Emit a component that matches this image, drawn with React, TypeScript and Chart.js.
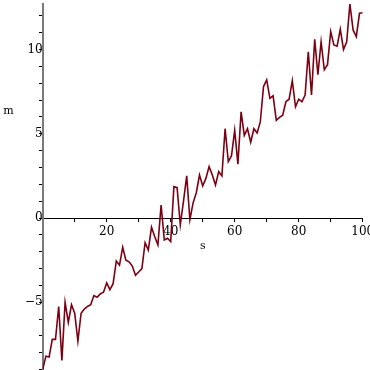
import React, { useEffect, useRef } from 'react';
import { Chart, registerables } from 'chart.js';

Chart.register(...registerables);

const S_VALUES = [
  0, 1, 2, 3, 4, 5, 6, 7, 8, 9, 10, 11, 12, 13, 14, 15, 16, 17, 18, 19,
  20, 21, 22, 23, 24, 25, 26, 27, 28, 29, 30, 31, 32, 33, 34, 35, 36, 37, 38, 39,
  40, 41, 42, 43, 44, 45, 46, 47, 48, 49, 50, 51, 52, 53, 54, 55, 56, 57, 58, 59,
  60, 61, 62, 63, 64, 65, 66, 67, 68, 69, 70, 71, 72, 73, 74, 75, 76, 77, 78, 79,
  80, 81, 82, 83, 84, 85, 86, 87, 88, 89, 90, 91, 92, 93, 94, 95, 96, 97, 98, 99, 100,
];

const M_VALUES = [
  -9.0, -8.2, -8.25, -7.2, -7.2, -5.25, -8.45, -5.0, -6.2, -5.15,
  -5.65, -7.3, -5.65, -5.4, -5.25, -5.15, -4.6, -4.7, -4.5, -4.4,
  -3.85, -4.25, -3.9, -2.55, -2.8, -1.74, -2.5, -2.6, -2.85, -3.4,
  -3.2, -3.0, -1.47, -1.9, -0.55, -1.1, -1.6, 0.77, -1.3, -1.2,
  -1.4, 1.86, 1.8, -0.4, 1.0, 2.5, -0.1, 0.9, 1.5, 2.55,
  1.9, 2.35, 3.05, 2.55, 1.96, 2.75, 2.5, 5.3, 3.35, 3.7,
  5.2, 3.2, 6.3, 4.9, 5.3, 4.5, 5.3, 5.05, 5.7, 7.8,
  8.2, 7.1, 7.25, 5.8, 5.97, 6.1, 6.9, 7.05, 8.15, 6.6,
  7.05, 6.9, 7.3, 9.87, 7.3, 10.6, 8.5, 10.46, 8.8, 9.1,
  11.06, 10.27, 10.2, 11.2, 10.0, 10.46, 12.7, 11.16, 10.76, 12.15,
  12.18,
];

const X_MIN = 0;
const X_MAX = 100;
const Y_MIN = -9.02;
const Y_MAX = 12.7;
const X_TICK_STEP = 10;
const X_LABEL_STEP = 20;
const Y_TICK_STEP = 1;
const Y_LABEL_STEP = 5;
const X_TITLE = 's';
const Y_TITLE = 'm';

const FONT_FAMILY = '"DejaVu Serif", serif';

const fmt = (v: number) => (v < 0 ? '\u2212' + String(Math.abs(v)) : String(v));

const zeroPad = (scale: any) => {
  scale.paddingLeft = 0;
  scale.paddingRight = 0;
  scale.paddingTop = 0;
  scale.paddingBottom = 0;
};

const axisTitles = {
  id: 'axisTitles',
  afterDraw(chart: any) {
    const { ctx, scales } = chart;
    const x = scales.x;
    const y = scales.y;
    ctx.save();
    ctx.fillStyle = '#000';
    ctx.font = '11px ' + FONT_FAMILY;
    ctx.textAlign = 'center';
    ctx.textBaseline = 'middle';
    ctx.fillText(X_TITLE, x.getPixelForValue((X_MIN + X_MAX) / 2), y.getPixelForValue(0) + 28);
    ctx.fillText(Y_TITLE, 8.5, y.getPixelForValue(Y_MAX / 2));
    ctx.restore();
  },
};

export default function App() {
  const ref = useRef<HTMLCanvasElement | null>(null);
  useEffect(() => {
    if (!ref.current) return;
    const data = S_VALUES.map((s, i) => ({ x: s, y: M_VALUES[i] }));
    const chart = new Chart(ref.current, {
      type: 'line',
      data: {
        datasets: [
          {
            data,
            borderColor: '#7c0012',
            borderWidth: 1.6,
            pointRadius: 0,
            tension: 0,
            fill: false,
          },
        ],
      },
      options: {
        animation: false,
        responsive: false,
        maintainAspectRatio: false,
        layout: { autoPadding: false, padding: { left: 42.7, right: 7.3, top: 4, bottom: 0 } },
        plugins: { legend: { display: false }, tooltip: { enabled: false } },
        scales: {
          x: {
            type: 'linear',
            min: X_MIN,
            max: X_MAX,
            position: { y: 0 },
            afterFit: zeroPad,
            border: { display: true, color: '#000', width: 1 },
            grid: { drawOnChartArea: false, drawTicks: true, tickLength: 3, color: '#000' },
            ticks: {
              stepSize: X_TICK_STEP,
              includeBounds: false,
              autoSkip: false,
              maxRotation: 0,
              padding: 4,
              color: '#000',
              font: { family: FONT_FAMILY, size: 12 },
              callback: (v: any) => (v !== 0 && v % X_LABEL_STEP === 0 ? fmt(v) : ''),
            },
          },
          y: {
            type: 'linear',
            min: Y_MIN,
            max: Y_MAX,
            position: { x: 0 },
            afterFit: zeroPad,
            border: { display: true, color: '#7a7a7a', width: 2 },
            grid: { drawOnChartArea: false, drawTicks: true, tickLength: 3, color: '#000' },
            ticks: {
              stepSize: Y_TICK_STEP,
              includeBounds: false,
              autoSkip: false,
              padding: 2,
              color: '#000',
              font: { family: FONT_FAMILY, size: 12 },
              callback: (v: any) => (Math.round(v) % Y_LABEL_STEP === 0 ? fmt(Math.round(v)) : ''),
            },
          },
        },
      },
      plugins: [axisTitles],
    });
    return () => chart.destroy();
  }, []);
  return (
    <div style={{ position: 'absolute', left: 0, top: 0, width: 370, height: 370 }}>
      <canvas ref={ref} width={370} height={370} style={{ display: 'block' }} />
    </div>
  );
}
